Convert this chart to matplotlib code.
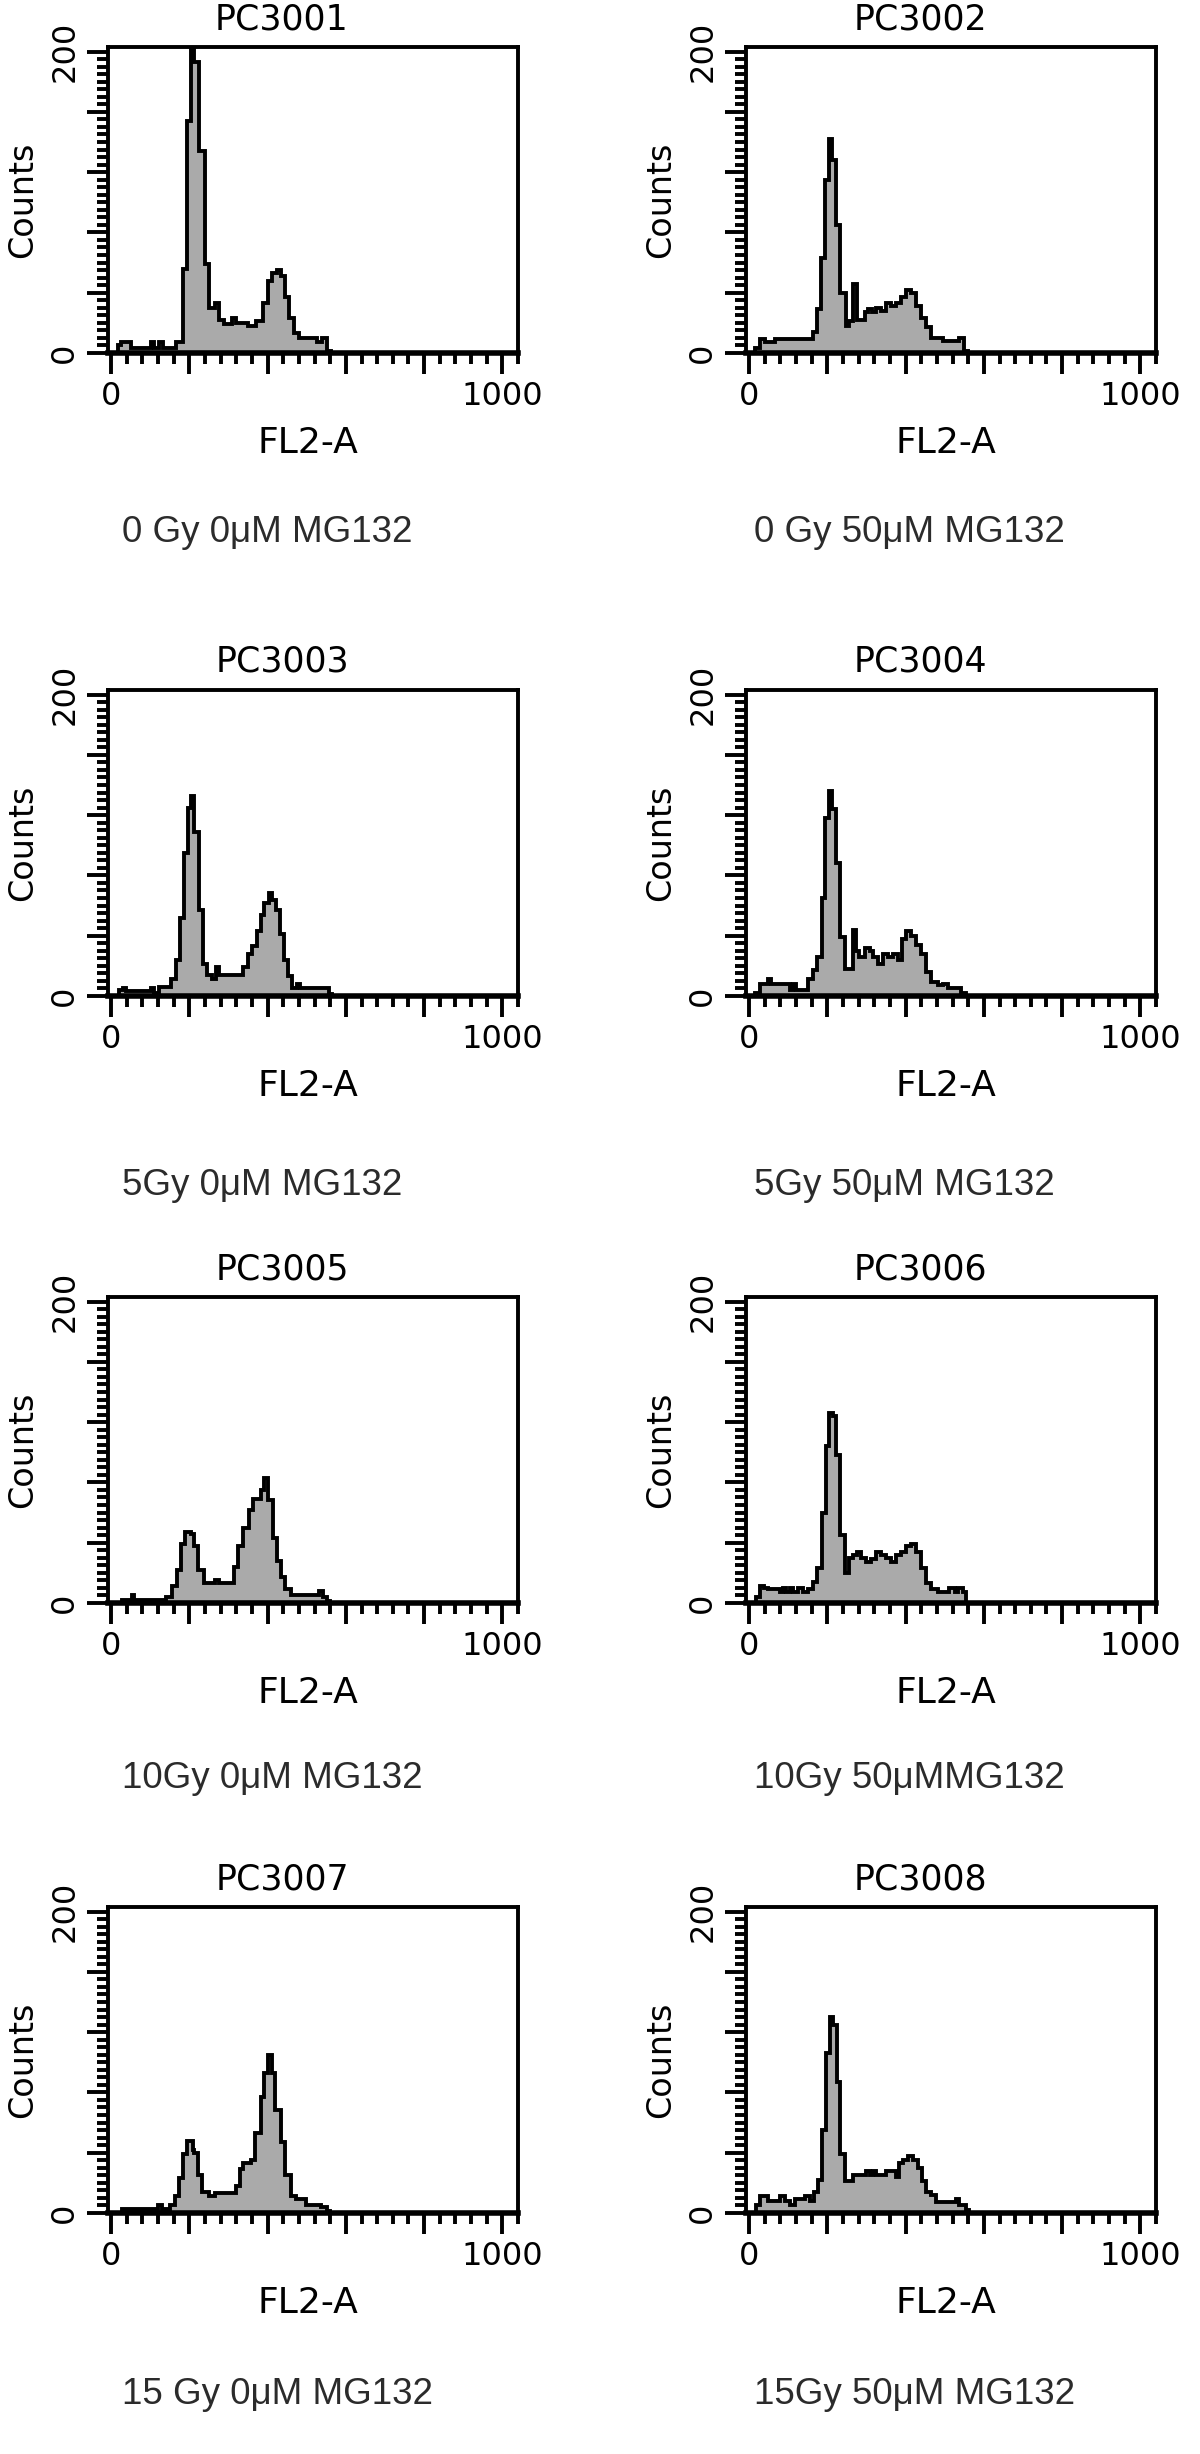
import numpy as np
import matplotlib.pyplot as plt
from matplotlib.ticker import MultipleLocator

# ── Histogram data: step edges (FL2-A channel) and counts ──
pc3001_edges = [0, 17, 25, 51, 102, 110, 123, 132, 166, 183, 193, 204, 213, 224, 241, 249, 266, 276,
                289, 310, 319, 349, 370, 387, 400, 412, 425, 434, 445, 455, 468, 480, 527, 540, 553, 561]
pc3001_counts = [0, 5, 7, 3, 7, 3, 7, 3, 7, 56, 154, 210, 193, 134, 59, 30, 33, 22, 19, 23, 20, 18,
                 21, 33, 48, 53, 55, 51, 37, 23, 13, 10, 7, 10, 1]

pc3002_edges = [0, 15, 27, 40, 65, 163, 173, 184, 193, 204, 213, 223, 233, 247, 255, 265, 275, 295,
                304, 315, 325, 338, 350, 363, 376, 389, 401, 414, 427, 440, 452, 465, 495, 537, 550, 559]
pc3002_counts = [0, 3, 9, 7, 9, 14, 29, 63, 115, 142, 128, 85, 40, 18, 21, 46, 22, 27, 29, 27, 30,
                 28, 33, 31, 33, 37, 42, 40, 31, 23, 17, 10, 8, 10, 1]

pc3003_edges = [0, 21, 30, 38, 102, 110, 122, 153, 166, 176, 187, 196, 204, 213, 224, 234, 244, 258,
                268, 276, 336, 349, 361, 374, 383, 391, 404, 412, 421, 431, 442, 453, 463, 474, 482,
                557, 565]
pc3003_counts = [0, 4, 5, 3, 5, 2, 6, 11, 24, 52, 95, 125, 133, 109, 57, 21, 14, 11, 19, 14, 19, 28,
                 33, 43, 54, 62, 68, 64, 57, 41, 24, 13, 5, 8, 5, 1]

pc3004_edges = [0, 15, 27, 49, 57, 104, 112, 121, 151, 163, 174, 185, 193, 204, 213, 223, 233, 244,
                265, 274, 282, 295, 308, 316, 329, 342, 355, 367, 380, 391, 401, 414, 427, 440, 452,
                465, 482, 495, 508, 542, 554]
pc3004_counts = [0, 2, 8, 11, 8, 4, 8, 4, 11, 17, 26, 65, 118, 136, 124, 88, 39, 18, 44, 30, 26, 32,
                 30, 26, 21, 28, 26, 28, 24, 38, 43, 40, 34, 28, 16, 9, 7, 8, 5, 2]

pc3005_edges = [0, 29, 53, 58, 140, 155, 169, 179, 188, 203, 213, 222, 237, 266, 275, 314, 324, 338,
                353, 362, 382, 391, 401, 415, 425, 435, 444, 459, 531, 541, 551, 560]
pc3005_counts = [0, 2, 5, 2, 4, 11, 22, 39, 47, 46, 38, 22, 13, 15, 13, 24, 38, 50, 62, 69, 75, 83,
                 68, 43, 28, 17, 9, 5, 8, 4, 1]

pc3006_edges = [0, 17, 27, 37, 49, 78, 87, 95, 104, 112, 125, 138, 151, 163, 174, 185, 196, 204, 214,
                223, 233, 244, 255, 265, 276, 287, 299, 312, 325, 338, 350, 363, 376, 389, 401, 414,
                427, 440, 452, 465, 482, 512, 525, 533, 546, 554]
pc3006_counts = [0, 4, 11, 10, 9, 7, 10, 7, 10, 7, 10, 7, 9, 14, 23, 60, 104, 126, 124, 98, 45, 20,
                 30, 32, 34, 30, 27, 29, 34, 32, 30, 27, 32, 34, 38, 39, 34, 23, 13, 9, 7, 10, 7, 10, 7]

pc3007_edges = [0, 29, 121, 130, 150, 164, 174, 184, 193, 208, 213, 222, 232, 251, 266, 319, 329, 338,
                358, 367, 382, 391, 401, 411, 420, 435, 444, 459, 473, 498, 536, 551, 560]
pc3007_counts = [0, 2.5, 5, 2.5, 5, 11, 23, 39, 48, 42, 40, 25, 14, 11, 13, 18, 29, 33, 35, 53, 77,
                 93, 105, 93, 68, 47, 25, 11, 9, 5, 4, 1]

pc3008_edges = [0, 17, 29, 49, 78, 91, 104, 116, 142, 155, 165, 176, 187, 196, 206, 214, 225, 233,
                244, 265, 299, 308, 316, 325, 350, 376, 384, 393, 406, 418, 431, 442, 452, 465, 478,
                529, 537, 554, 563]
pc3008_counts = [0, 5.5, 11.5, 8, 11.5, 8, 5.5, 9, 11, 8, 14, 22, 55, 106, 130, 125, 87, 39, 21, 25,
                 28, 25, 28, 25, 28, 24, 33, 35, 38, 35, 30, 21, 14, 12, 7, 9, 5.5, 2]

sample_ids = ["PC3001", "PC3002", "PC3003", "PC3004", "PC3005", "PC3006", "PC3007", "PC3008"]
conditions = ["0 Gy 0\u03bcM MG132", "0 Gy 50\u03bcM MG132",
              "5Gy 0\u03bcM MG132", "5Gy 50\u03bcM MG132",
              "10Gy 0\u03bcM MG132", "10Gy 50\u03bcMMG132",
              "15 Gy 0\u03bcM MG132", "15Gy 50\u03bcM MG132"]
all_edges = [pc3001_edges, pc3002_edges, pc3003_edges, pc3004_edges,
             pc3005_edges, pc3006_edges, pc3007_edges, pc3008_edges]
all_counts = [pc3001_counts, pc3002_counts, pc3003_counts, pc3004_counts,
              pc3005_counts, pc3006_counts, pc3007_counts, pc3008_counts]

x_ticks = [0, 200, 400, 600, 800, 1000]
x_labels = ["0", "", "", "", "", "1000"]
y_ticks = [0, 40, 80, 120, 160, 200]
y_labels = ["0", "", "", "", "", "200"]

# ── Layout (pixels in the 1200 x 2454 canvas) ────────────────────────────────
W, H = 1200, 2454
col_left = [108, 746]
box_w = 410
row_top = [47, 690, 1297, 1907]
box_h = 306
caption_x = [122, 754]
caption_y = [532, 1186, 1779, 2394]

FACS_FONT = "DejaVu Sans"
CAPTION_FONT = "Liberation Sans"

fig = plt.figure(figsize=(W / 100, H / 100), dpi=100)


def fx(px):
    return px / W


def fy(py):
    return 1 - py / H


for i, (sid, cond, edges, counts) in enumerate(zip(sample_ids, conditions, all_edges, all_counts)):
    r, c = divmod(i, 2)
    left, top = col_left[c], row_top[r]
    base = top + box_h
    ax = fig.add_axes([fx(left), fy(base), box_w / W, box_h / H])

    ax.stairs(counts, edges, fill=True, color="#aaaaaa", lw=0)
    ax.stairs(counts, edges, color="black", lw=2.8)

    ax.set_xlim(-8, 1040)
    ax.set_ylim(0, 203)

    ax.set_xticks(x_ticks, x_labels, fontsize=23, family=FACS_FONT)
    ax.set_yticks(y_ticks, y_labels, fontsize=23, family=FACS_FONT, rotation=90, va="center")
    ax.xaxis.set_minor_locator(MultipleLocator(40))
    ax.yaxis.set_minor_locator(MultipleLocator(5))
    ax.tick_params(which="both", direction="out", width=2.8, top=False, right=False)
    ax.tick_params(which="major", length=15)
    ax.tick_params(which="minor", length=8)
    ax.tick_params(axis="x", pad=5)
    ax.tick_params(axis="y", pad=5)

    for side in ["top", "left", "right"]:
        ax.spines[side].set_linewidth(2.8)
    ax.spines["bottom"].set_linewidth(4)

    cx = left + box_w / 2
    fig.text(fx(cx - 31), fy(top - 28), sid, ha="center", va="center",
             fontsize=25, family=FACS_FONT)
    fig.text(fx(left - 85), fy(top + box_h / 2), "Counts", ha="center", va="center",
             rotation=90, fontsize=24, family=FACS_FONT)
    fig.text(fx(cx - 5), fy(base + 90), "FL2-A", ha="center", va="center",
             fontsize=26, family=FACS_FONT)
    fig.text(fx(caption_x[c]), fy(caption_y[r]), cond, ha="left", va="center",
             fontsize=26.5, family=CAPTION_FONT, color="#2b2b2b")

fig.savefig("out.png", dpi=100, facecolor="white")
